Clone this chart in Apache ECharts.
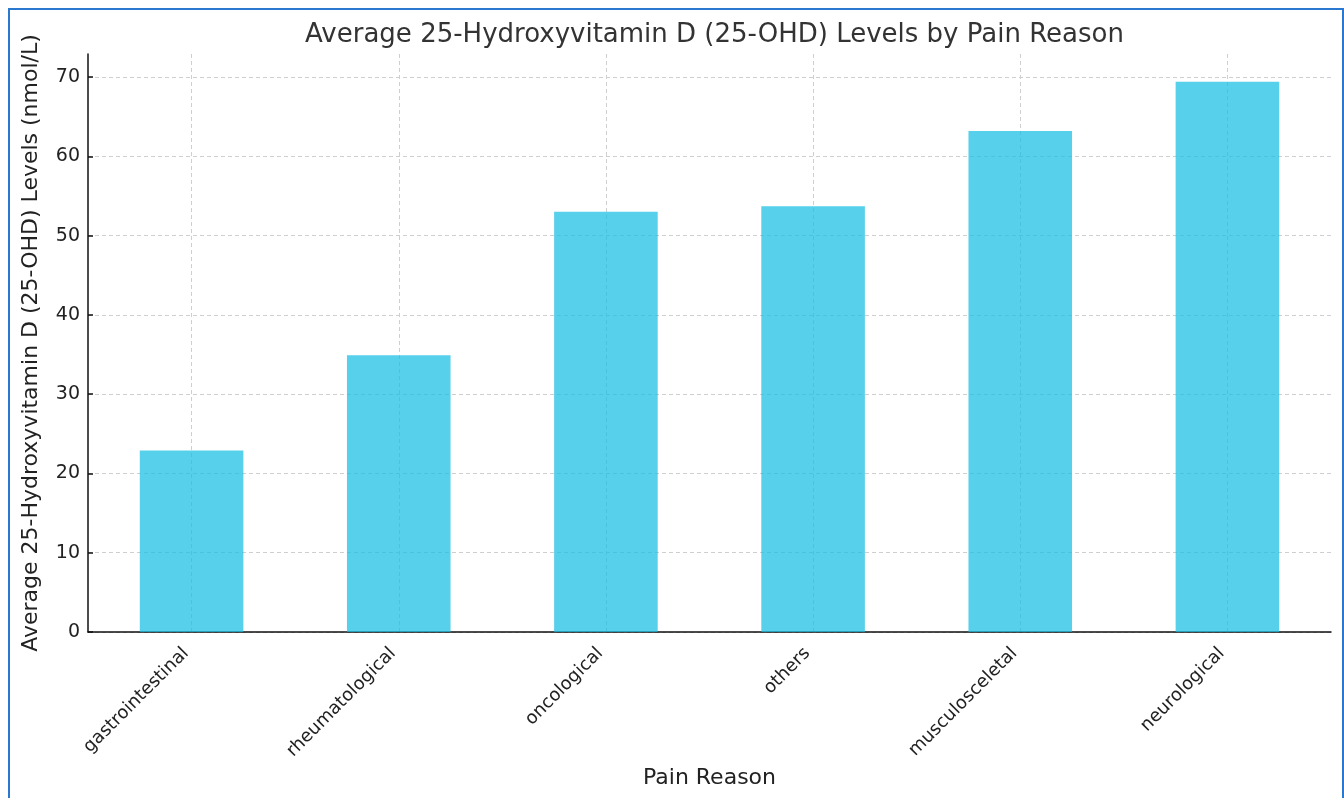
<!DOCTYPE html>
<html>
<head>
<meta charset="utf-8">
<script src="https://cdn.jsdelivr.net/npm/echarts@6/dist/echarts.min.js"></script>
<style>html,body{margin:0;padding:0;background:#fff;}#c{width:1344px;height:798px;}</style>
</head>
<body>
<div id="c"></div>
<script>
const categories = ['gastrointestinal', 'rheumatological', 'oncological', 'others', 'musculosceletal', 'neurological'];
const values = [22.9, 34.9, 53.0, 53.7, 63.2, 69.4];
const yTicks = [0, 10, 20, 30, 40, 50, 60, 70];

const chart = echarts.init(document.getElementById('c'), null, {renderer: 'canvas'});
const font = 'DejaVu Sans';
chart.setOption({
  backgroundColor: '#fff',
  animation: false,
  title: {
    text: 'Average 25-Hydroxyvitamin D (25-OHD) Levels by Pain Reason',
    left: 709.5, textAlign: 'center', top: 17,
    textStyle: {fontFamily: font, fontSize: 26, fontWeight: 'normal', color: '#333'}
  },
  graphic: [{
    type: 'rect', z: 100, silent: true,
    shape: {x: 9, y: 9, width: 1334, height: 800},
    style: {fill: 'none', stroke: '#2a78d0', lineWidth: 2}
  }],
  grid: {left: 88, right: 13, top: 54, bottom: 166, containLabel: false},
  xAxis: {
    type: 'category', data: categories, boundaryGap: true,
    name: 'Pain Reason', nameLocation: 'middle', nameGap: 130,
    nameTextStyle: {fontFamily: font, fontSize: 22, color: '#222'},
    axisLine: {lineStyle: {color: '#111', width: 1.5}},
    axisTick: {alignWithLabel: true, inside: true, length: 5, lineStyle: {color: '#111', width: 1.5}},
    axisLabel: {rotate: 45, fontFamily: font, fontSize: 18, color: '#222', margin: 13, interval: 0, padding: [0, 8, 0, 0]},
    splitLine: {show: true, alignWithLabel: true, interval: 0, lineStyle: {color: '#cfcfcf', type: [4, 3], width: 1}}
  },
  yAxis: {
    type: 'value', min: 0, max: 72.9, interval: 10,
    name: 'Average 25-Hydroxyvitamin D (25-OHD) Levels (nmol/L)', nameLocation: 'middle', nameGap: 46,
    nameTextStyle: {fontFamily: font, fontSize: 22, color: '#222'},
    axisLine: {show: true, lineStyle: {color: '#111', width: 1.5}},
    axisTick: {show: true, inside: true, length: 5, lineStyle: {color: '#111', width: 1.5}},
    axisLabel: {fontFamily: font, fontSize: 19, color: '#222', margin: 8, showMaxLabel: false,
      formatter: v => yTicks.indexOf(v) >= 0 ? String(v) : ''},
    splitLine: {show: true, showMaxLine: false, lineStyle: {color: '#cfcfcf', type: [4, 3], width: 1}}
  },
  series: [{
    type: 'bar', data: values, barWidth: '50%',
    itemStyle: {color: 'rgba(22,190,227,0.72)'}
  }]
});
</script>
</body>
</html>
